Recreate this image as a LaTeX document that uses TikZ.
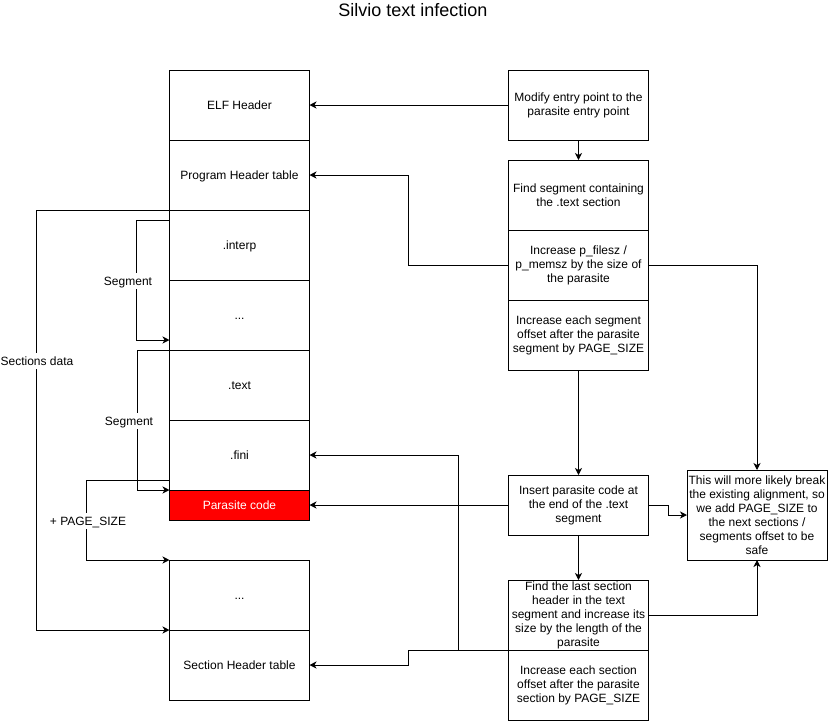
\documentclass[tikz,border=0pt]{standalone}
\usepackage{fontspec}
\setmainfont{Liberation Sans}
\usetikzlibrary{arrows.meta}
\begin{document}
\begin{tikzpicture}[x=1pt,y=-1pt,>={Stealth[length=7pt,width=7pt,inset=2pt]},
	box/.style={draw,line width=1pt,minimum width=140pt,minimum height=70pt,inner sep=0pt,outer sep=0pt,align=center,font=\fontsize{12}{14}\selectfont},
	oneline/.style={text height=10.9pt,text depth=2.5pt},
	lbl/.style={fill=white,inner sep=1pt,oneline,font=\fontsize{12}{14}\selectfont},
	conn/.style={->,line width=1pt}]
	\useasboundingbox (0,0) rectangle (828,721);
	\node[font=\fontsize{18}{20}\selectfont] (title) at (413,10){Silvio text infection};
	% file layout
	\node[box,oneline] (elfhdr) at (239.5,105){ELF Header};
	\node[box,oneline] (phdr) at (239.5,175){Program Header table};
	\node[box,oneline] (interp) at (239.5,245){.interp};
	\node[box,oneline] (dotsa) at (239.5,315){...};
	\node[box,oneline] (text) at (239.5,385){.text};
	\node[box,oneline] (fini) at (239.5,455){.fini};
	\node[box,oneline,minimum height=30pt,fill=red,text=white] (parasite) at (239.5,505){Parasite code};
	\node[box,oneline] (dotsb) at (239.5,595){...};
	\node[box,oneline] (shdr) at (239.5,665){Section Header table};
	% steps
	\node[box] (modify) at (578.5,105){Modify entry point to the\\parasite entry point};
	\node[box] (findseg) at (578.5,195){Find segment containing\\the .text section};
	\node[box] (filesz) at (578.5,265){Increase p\_filesz /\\p\_memsz by the size of\\the parasite};
	\node[box] (segoff) at (578.5,335){Increase each segment\\offset after the parasite\\segment by PAGE\_SIZE};
	\node[box,minimum height=60pt] (insert) at (578.5,505){Insert parasite code at\\the end of the .text\\segment};
	\node[box] (findlast) at (578.5,615){Find the last section\\header in the text\\segment and increase its\\size by the length of the\\parasite};
	\node[box] (secoff) at (578.5,685){Increase each section\\offset after the parasite\\section by PAGE\_SIZE};
	\node[box,minimum height=90pt] (note) at (757,515){This will more likely break\\the existing alignment, so\\we add PAGE\_SIZE to\\the next sections /\\segments offset to be\\safe};
	% left brackets
	\draw[conn] (phdr.south west) -- ++(-133,0) |- (shdr.north west);
	\draw[conn] ([yshift=-10pt]interp.north west) -- ++(-33,0) |- ([yshift=10pt]dotsa.south west);
	\draw[conn] (text.north west) -- ++(-32,0) |- (parasite.north west);
	\draw[conn] ([yshift=10pt]fini.south west) -- ++(-83,0) |- (dotsb.north west);
	\node[lbl] (secdata) at (37,361){Sections data};
	\node[lbl] (sega) at (128,281){Segment};
	\node[lbl] (segb) at (129,421){Segment};
	\node[lbl] (pgsize) at (88,521){+ PAGE\_SIZE};
	% steps to layout
	\draw[conn] (modify) -- (elfhdr);
	\draw[conn] (modify) -- (findseg);
	\draw[conn] (filesz.west) -- ++(-100,0) |- (phdr.east);
	\draw[conn] (filesz.east) -| (note.north);
	\draw[conn] (segoff) -- (insert);
	\draw[conn] (insert) -- (parasite);
	\draw[conn] (insert.east) -- ++(20,0) |- (note.west);
	\draw[conn] (insert) -- (findlast);
	\draw[conn] (findlast.east) -| (note.south);
	\draw[conn] (findlast.south west) -- ++(-50,0) |- (fini.east);
	\draw[conn] (findlast.south west) -- ++(-100,0) |- (shdr.east);
\end{tikzpicture}
\end{document}
